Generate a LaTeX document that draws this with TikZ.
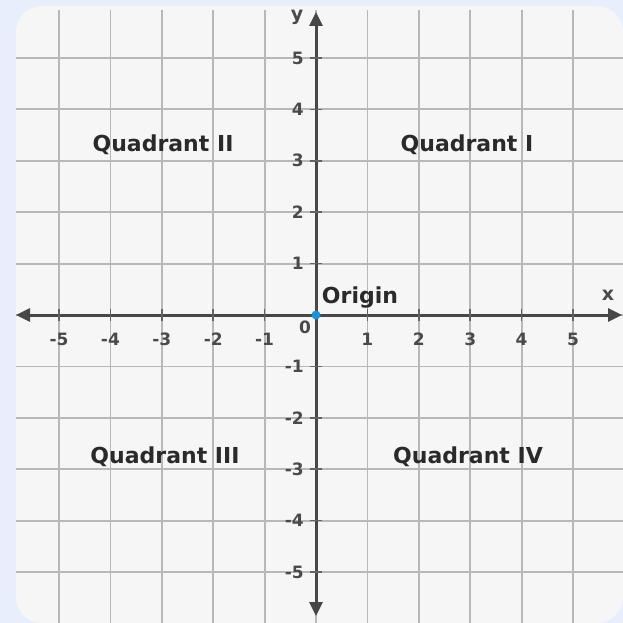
\documentclass[tikz,border=0pt]{standalone}
\usepackage{fontspec}
\setmainfont{DejaVu Sans}
\usetikzlibrary{arrows.meta}
\definecolor{outerbg}{HTML}{E8EFFC}
\definecolor{innerbg}{HTML}{F6F6F6}
\definecolor{gridc}{HTML}{B8B8B8}
\definecolor{axisc}{HTML}{474747}
\definecolor{textc}{HTML}{2A2A2A}
\definecolor{dotc}{HTML}{1E90D6}
\begin{document}
\begin{tikzpicture}[x=1pt,y=-1pt,
  gridline/.style={gridc, line width=1.8pt},
  axisline/.style={axisc, line width=3pt, {Triangle[length=14pt,width=13pt]}-{Triangle[length=14pt,width=13pt]}},
  ticklabel/.style={font=\bfseries\fontsize{17}{17}\selectfont, text=textc!85, inner sep=0pt},
  quadlabel/.style={font=\bfseries\fontsize{22}{22}\selectfont, text=textc, inner sep=0pt},
  tickmark/.style={axisc!85, line width=1.6pt}]
\useasboundingbox (0,0) rectangle (623,623);
\fill[outerbg] (0,0) rectangle (623,623);
\fill[innerbg, rounded corners=26pt] (16,6) rectangle (623,623);
\foreach \k in {-5,...,5} {
  \draw[gridline] ({316+\k*51.4},10) -- ({316+\k*51.4},623);
  \draw[gridline] (16,{315+\k*51.4}) -- (623,{315+\k*51.4});
}
\coordinate (xl) at (16,315);
\coordinate (xr) at (622,315);
\coordinate (yt) at (316,12);
\coordinate (yb) at (316,616);
\draw[axisline] (xl) -- (xr);
\draw[axisline] (yb) -- (yt);
\foreach \k in {-5,-4,-3,-2,-1,1,2,3,4,5} {
  \draw[tickmark] ({316+\k*51.4},309) -- ({316+\k*51.4},321);
  \draw[tickmark] (310,{315-\k*51.4}) -- (322,{315-\k*51.4});
  \node[ticklabel] (xt\k) at ({316+\k*51.4},339) {\k};
  \node[ticklabel, anchor=east] (yt\k) at (304,{315-\k*51.4}) {\k};
}
\node[ticklabel] (zero) at (305,327) {0};
\node[ticklabel, font=\bfseries\fontsize{19}{19}\selectfont] (xlab) at (608,295) {x};
\node[ticklabel, font=\bfseries\fontsize{19}{19}\selectfont] (ylab) at (297,17) {y};
\node[circle, fill=dotc, inner sep=0pt, minimum size=9pt] (O) at (316,315) {};
\node[quadlabel] (orig) at (360,298) {Origin};
\node[quadlabel] (q1) at (467,145) {Quadrant I};
\node[quadlabel] (q2) at (163,145) {Quadrant II};
\node[quadlabel] (q3) at (165,457) {Quadrant III};
\node[quadlabel] (q4) at (468,457) {Quadrant IV};
\end{tikzpicture}
\end{document}
